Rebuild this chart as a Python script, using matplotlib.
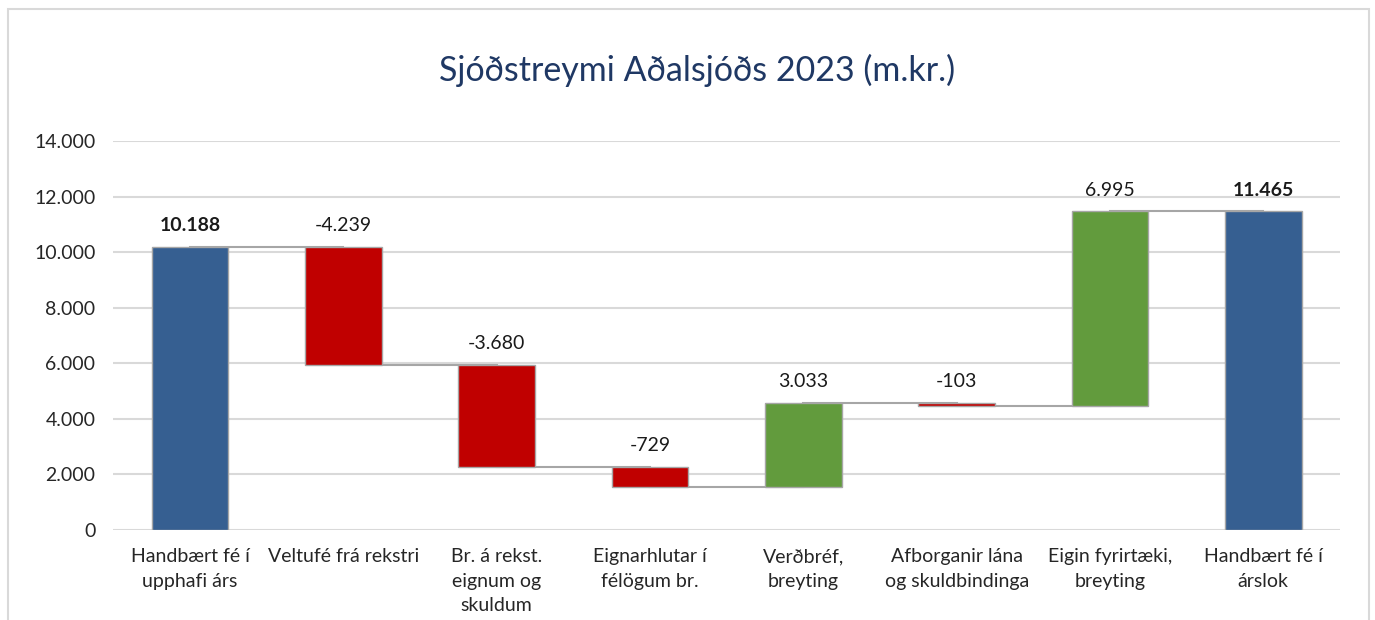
import numpy as np
import matplotlib
matplotlib.use("Agg")
import matplotlib.pyplot as plt
from matplotlib.patches import Rectangle
from matplotlib.ticker import FuncFormatter, MultipleLocator

plt.rcParams["font.family"] = ["Lato", "DejaVu Sans"]

categories = [
    "Handbært fé í\nupphafi árs",
    "Veltufé frá rekstri",
    "Br. á rekst.\neignum og\nskuldum",
    "Eignarhlutar í\nfélögum br.",
    "Verðbréf,\nbreyting",
    "Afborganir lána\nog skuldbindinga",
    "Eigin fyrirtæki,\nbreyting",
    "Handbært fé í\nárslok",
]
values = [10188, -4239, -3680, -729, 3033, -103, 6995, 11465]
is_total = [True, False, False, False, False, False, False, True]

BLUE = "#365F91"
RED = "#C00000"
GREEN = "#629B3D"


def fmt(v):
    return f"{v:,.0f}".replace(",", ".")


# running totals for the floating bars
bottoms, heights, colors, tops = [], [], [], []
level = 0
for v, tot in zip(values, is_total):
    if tot:
        bottoms.append(0)
        heights.append(v)
        colors.append(BLUE)
        level = v
    else:
        new = level + v
        bottoms.append(min(level, new))
        heights.append(abs(v))
        colors.append(GREEN if v > 0 else RED)
        level = new
    tops.append(level)

fig = plt.figure(figsize=(13.75, 6.2), dpi=100)
ax = fig.add_axes([0.0825, 0.1452, 0.892, 0.6274])

x = np.arange(len(values))
ax.bar(x, heights, bottom=bottoms, width=0.5, color=colors,
       edgecolor="#A6A6A6", linewidth=1.0, zorder=3)

# connectors between consecutive bars
for i in range(len(values) - 1):
    ax.plot([x[i], x[i + 1]], [tops[i], tops[i]], color="#A6A6A6",
            linewidth=1.5, zorder=2)

for i, v in enumerate(values):
    top = bottoms[i] + heights[i]
    ax.annotate(fmt(v), (x[i], top), xytext=(0, 9), textcoords="offset points",
                ha="center", va="bottom", fontsize=14, color="#1a1a1a",
                fontweight="bold" if is_total[i] else "normal")

ax.set_xlim(-0.5, len(values) - 0.5)
ax.set_ylim(0, 14000)
ax.yaxis.set_major_locator(MultipleLocator(2000))
ax.yaxis.set_major_formatter(FuncFormatter(lambda v, p: fmt(v)))
ax.grid(axis="y", color="#D9D9D9", linewidth=1.5, zorder=0)
ax.set_axisbelow(True)
for s in ax.spines.values():
    s.set_visible(False)
ax.tick_params(length=0, labelsize=14, labelcolor="#262626")
ax.tick_params(axis="y", pad=13)
ax.tick_params(axis="x", pad=13)
ax.set_xticks(x)
ax.set_xticklabels(categories, linespacing=1.55)

fig.text(0.507, 0.887, "Sjóðstreymi Aðalsjóðs 2023 (m.kr.)", ha="center", va="center",
         fontsize=24.5, color="#1F3864")

fig.patches.append(Rectangle((8 / 1375, -0.02), 1361 / 1375, 1.02 - 9 / 620,
                             transform=fig.transFigure, fill=False,
                             edgecolor="#D9D9D9", linewidth=1.5))

fig.savefig("out.png", dpi=100, facecolor="white")
